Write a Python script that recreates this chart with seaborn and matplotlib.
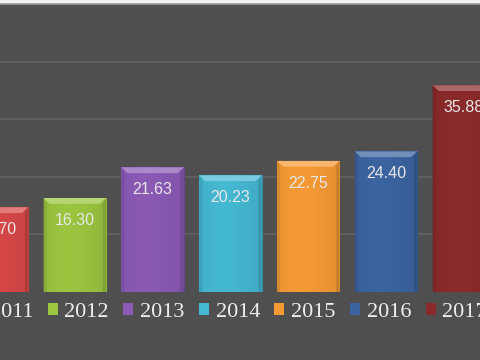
import numpy as np
import pandas as pd
import matplotlib
matplotlib.use("Agg")
import matplotlib.pyplot as plt
import seaborn as sns
from matplotlib.patches import Patch, Polygon, Rectangle
from matplotlib.colors import to_rgb

years = ["2011", "2012", "2013", "2014", "2015", "2016", "2017"]
values = [14.70, 16.30, 21.63, 20.23, 22.75, 24.40, 35.88]
colors = ["#d84848", "#9cc540", "#8a5ab5", "#45b8d2", "#f59a35", "#3b64a0", "#8b2a2a"]

df = pd.DataFrame({"year": years, "value": values})

sns.set_theme(style="dark")
bg = "#4f4f4f"
fig = plt.figure(figsize=(4.8, 3.6), dpi=100, facecolor="#f2f2f2")
fig.patches.append(Rectangle((0, 0), 1, 0.988, transform=fig.transFigure,
                             facecolor=bg, edgecolor="none", zorder=-10))
ax = fig.add_axes([0, 0.189, 1, 0.8])
ax.set_zorder(1)
ax.set_facecolor(bg)

sns.barplot(data=df, x="year", y="value", hue="year", palette=colors,
            width=0.8, legend=False, ax=ax, saturation=1, zorder=3)

ax.set_yticks([10, 20, 30, 40])
ax.yaxis.grid(True, color="#626262", linewidth=1.2, zorder=0)
ax.xaxis.grid(False)
ax.set_axisbelow(True)
ax.set_xlabel("")
ax.set_ylabel("")
ax.tick_params(left=False, bottom=False, labelleft=False, labelbottom=False)
for s in ["left", "right", "bottom"]:
    ax.spines[s].set_visible(False)
ax.spines["top"].set_color("#9a9a9a")
ax.spines["top"].set_linewidth(1.2)

# gradient + bevel effects on each bar
grad = np.linspace(0, 1, 64)
shade = 1 - 0.16 * np.abs(grad - 0.4) ** 1.5
bars = list(ax.patches)
for p, c in zip(bars, colors):
    x0, y0 = p.get_x(), p.get_y()
    w, h = p.get_width(), p.get_height()
    rgb = np.array(to_rgb(c))
    img = (shade[None, :, None] * rgb[None, None, :]).clip(0, 1)
    im = ax.imshow(img, extent=[x0, x0 + w, y0, y0 + h], aspect="auto",
                   zorder=4, interpolation="bilinear")
    im.set_clip_path(p)
    p.set_edgecolor((rgb * 0.75))
    p.set_linewidth(0.8)
    bh = 1.0
    dx = 0.08
    light = np.clip(rgb + (1 - rgb) * 0.28, 0, 1)
    bevel = Polygon([[x0, y0 + h], [x0 + w, y0 + h],
                     [x0 + w - dx, y0 + h - bh], [x0 + dx, y0 + h - bh]],
                    closed=True, facecolor=light, edgecolor="none", zorder=5)
    ax.add_patch(bevel)
    left = Polygon([[x0, y0], [x0, y0 + h], [x0 + dx * 0.5, y0 + h - bh],
                    [x0 + dx * 0.5, y0]], closed=True,
                   facecolor=np.clip(rgb * 0.88, 0, 1), edgecolor="none", zorder=5)
    right = Polygon([[x0 + w, y0], [x0 + w, y0 + h], [x0 + w - dx * 0.5, y0 + h - bh],
                     [x0 + w - dx * 0.5, y0]], closed=True,
                    facecolor=np.clip(rgb * 0.82, 0, 1), edgecolor="none", zorder=5)
    ax.add_patch(left)
    ax.add_patch(right)

ax.set_xlim(0.0386, 6.208)
ax.set_ylim(0, 50)

for p, v in zip(bars, values):
    ax.annotate(f"{v:.2f}", (p.get_x() + p.get_width() / 2, p.get_height()),
                xytext=(0, -16), textcoords="offset points",
                ha="center", va="center", color="#e8e8e8", fontsize=11.5,
                family="Liberation Sans", zorder=6, annotation_clip=False)

handles = [Patch(facecolor=c, edgecolor="none", label=y) for y, c in zip(years, colors)]
leg = fig.legend(handles=handles, loc="center", bbox_to_anchor=(0.479, 0.133),
                 ncol=7, frameon=False, handlelength=0.45,
                 handleheight=0.45, handletextpad=0.3, columnspacing=0.65,
                 prop={"family": "Liberation Serif", "size": 16})
for t in leg.get_texts():
    t.set_color("#eeeeee")

fig.savefig("out.png", dpi=100, facecolor=fig.get_facecolor())
